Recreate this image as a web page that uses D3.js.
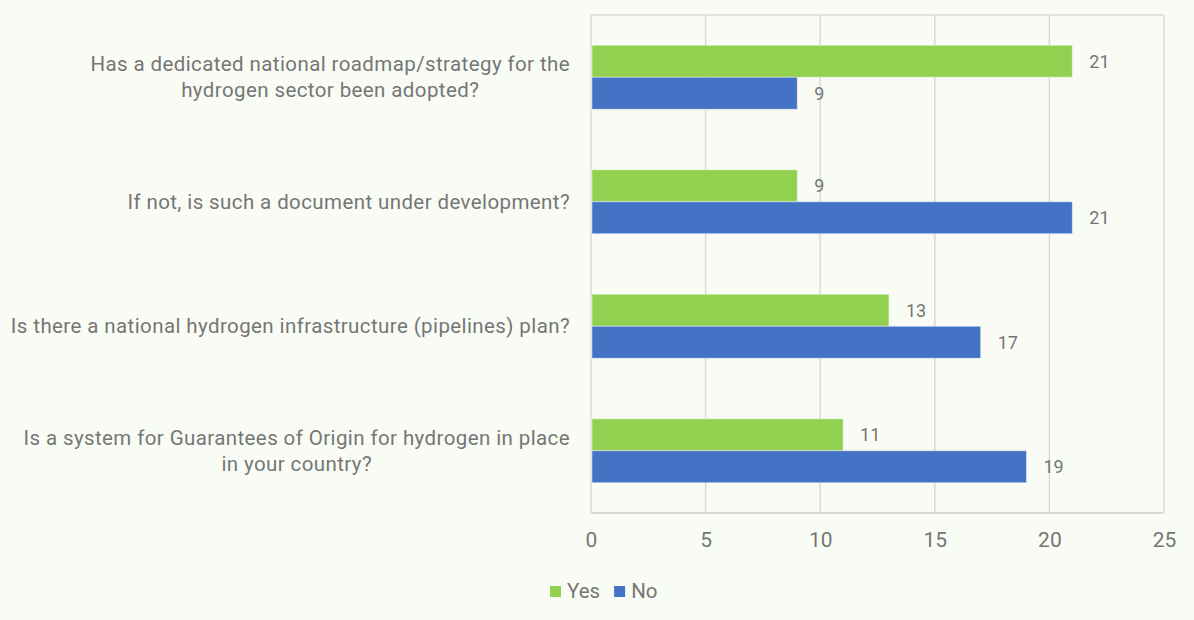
<!DOCTYPE html>
<html>
<head>
<meta charset="utf-8">
<script src="https://cdn.jsdelivr.net/npm/d3@7"></script>
<style>
  html, body { margin: 0; padding: 0; background: #f9fcf5; }
  svg { display: block; font-family: Roboto, "Noto Sans", sans-serif; }
</style>
</head>
<body>
<svg id="chart" width="1194" height="620"></svg>
<script>
// Survey questions (each label line is listed separately)
const questions = [
  ["Has a dedicated national roadmap/strategy for the", "hydrogen sector been adopted?"],
  ["If not, is such a document under development?"],
  ["Is there a national hydrogen infrastructure (pipelines) plan?"],
  ["Is a system for Guarantees of Origin for hydrogen in place", "in your country?"]
];
const seriesNames = ["Yes", "No"];
const yesValues = [21, 9, 13, 11];
const noValues = [9, 21, 17, 19];
const xTicks = [0, 5, 10, 15, 20, 25];
const colors = ["#92d050", "#4472c4"];

const svg = d3.select("#chart");
const plot = { left: 591, right: 1164, top: 15, bottom: 513 };
const textColor = "#767676";
const gridColor = "#d9d9d9";

const rows = questions.map((q, i) => ({ key: i, lines: q, values: [yesValues[i], noValues[i]] }));

const x = d3.scaleLinear().domain([0, 25]).range([plot.left, plot.right]);
const y = d3.scaleBand().domain(rows.map(r => r.key)).range([plot.top, plot.bottom]).padding(0);
const groupH = 64;
const ySub = d3.scaleBand().domain(seriesNames).range([0, groupH]).padding(0);

// plot frame and vertical gridlines
const grid = svg.append("g");
grid.selectAll("line.grid").data(xTicks).join("line")
  .attr("x1", d => x(d)).attr("x2", d => x(d))
  .attr("y1", plot.top).attr("y2", plot.bottom)
  .attr("stroke", gridColor).attr("stroke-width", 1.5);
grid.append("line")
  .attr("x1", plot.left).attr("x2", plot.right)
  .attr("y1", plot.top).attr("y2", plot.top)
  .attr("stroke", gridColor).attr("stroke-width", 1.5);
grid.append("line")
  .attr("x1", plot.left).attr("x2", plot.right)
  .attr("y1", plot.bottom).attr("y2", plot.bottom)
  .attr("stroke", gridColor).attr("stroke-width", 2);

// bars
const groups = svg.append("g").selectAll("g.row").data(rows).join("g")
  .attr("transform", d => `translate(0,${y(d.key) + (y.bandwidth() - groupH) / 2})`);

groups.selectAll("rect").data(d => d.values.map((v, j) => ({ v, s: seriesNames[j], j })))
  .join("rect")
  .attr("x", x(0) + 1)
  .attr("y", d => ySub(d.s))
  .attr("width", d => x(d.v) - x(0) - 1)
  .attr("height", ySub.bandwidth())
  .attr("fill", d => colors[d.j])
  .attr("stroke", "#ffffff").attr("stroke-opacity", 0.45).attr("stroke-width", 1);

// value labels
groups.selectAll("text.val").data(d => d.values.map((v, j) => ({ v, s: seriesNames[j] })))
  .join("text")
  .attr("class", "val")
  .attr("x", d => x(d.v) + 17)
  .attr("y", d => ySub(d.s) + ySub.bandwidth() / 2)
  .attr("dy", "0.35em")
  .attr("fill", textColor)
  .attr("font-size", 18)
  .text(d => d.v);

// category labels: multi-line blocks, lines centred, block right-aligned
const labelRight = 570;
const lineH = 26;
rows.forEach(r => {
  const g = svg.append("g");
  const cy = y(r.key) + y.bandwidth() / 2;
  const n = r.lines.length;
  const texts = r.lines.map((line, k) => g.append("text")
    .attr("y", cy + (k - (n - 1) / 2) * lineH)
    .attr("dy", "0.35em")
    .attr("fill", textColor)
    .attr("font-size", 20.5)
    .attr("letter-spacing", 0.4)
    .attr("text-anchor", "middle")
    .text(line));
  const maxW = d3.max(texts, t => t.node().getComputedTextLength());
  texts.forEach(t => t.attr("x", labelRight - maxW / 2));
});

// x axis tick labels
const axis = d3.axisBottom(x).tickValues(xTicks).tickSize(0).tickPadding(19);
const ax = svg.append("g").attr("transform", `translate(0,${plot.bottom})`).call(axis);
ax.select(".domain").remove();
ax.selectAll("text").attr("fill", textColor).attr("font-size", 21)
  .attr("font-family", "Roboto, 'Noto Sans', sans-serif");

// legend
const legend = svg.append("g").attr("transform", "translate(550,591)");
let lx = 0;
seriesNames.forEach((name, j) => {
  legend.append("rect").attr("x", lx).attr("y", -5).attr("width", 11).attr("height", 11).attr("fill", colors[j]);
  const t = legend.append("text").attr("x", lx + 17).attr("y", 0).attr("dy", "0.35em")
    .attr("fill", textColor).attr("font-size", 20.5).text(name);
  lx += 17 + t.node().getComputedTextLength() + 14;
});
</script>
</body>
</html>
